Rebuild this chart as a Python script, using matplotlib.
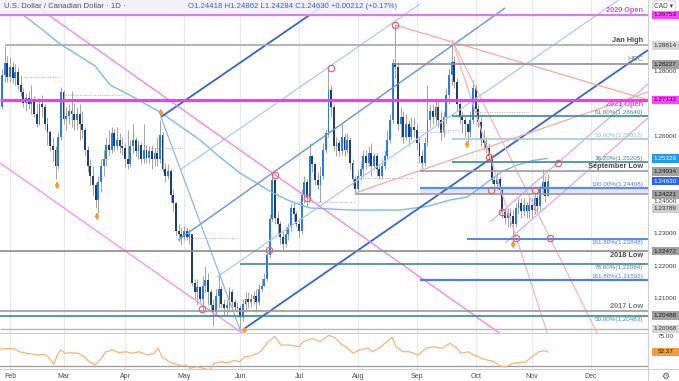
import matplotlib
matplotlib.use("Agg")
import matplotlib.pyplot as plt
import matplotlib.transforms as mtransforms
from matplotlib.patches import Rectangle
from matplotlib.lines import Line2D
import numpy as np
import pandas as pd

plt.rcParams['font.family'] = ['Liberation Sans', 'DejaVu Sans']

# ---------------- data ----------------
first_date = "2021-01-27"
first_open = 1.2690
close_pips = [12790, 12827, 12784,
    12815, 12780, 12800, 12760, 12738, 12705, 12720, 12700, 12712, 12670,
    12640, 12700, 12690, 12640, 12615, 12570, 12560, 12510, 12600, 12738,
    12655, 12665, 12680, 12670, 12650, 12670, 12640, 12620, 12560, 12510,
    12480, 12450, 12405, 12460, 12510, 12530, 12575, 12560, 12610, 12570,
    12590, 12570, 12565, 12530, 12515, 12570, 12590, 12555, 12575, 12530,
    12560, 12535, 12555, 12530, 12550, 12530, 12605, 12500, 12480, 12495,
    12420, 12395, 12310, 12300, 12290, 12310, 12290, 12300, 12150, 12120,
    12135, 12100, 12140, 12158, 12120, 12080, 12060, 12110, 12130, 12085,
    12070, 12080, 12120, 12090, 12075, 12070, 12045, 12085, 12100, 12090,
    12100, 12110, 12090, 12130, 12140, 12160, 12235, 12347, 12466, 12350,
    12330, 12290, 12270, 12300, 12320, 12380, 12360, 12330, 12310, 12420,
    12460, 12410, 12540, 12515, 12465, 12450, 12480, 12560, 12610, 12744,
    12690, 12570, 12580, 12555, 12600, 12560, 12590, 12520, 12470, 12440,
    12480, 12500, 12540, 12520, 12550, 12510, 12540, 12500, 12480, 12510,
    12540, 12590, 12650, 12827, 12815, 12640, 12660, 12600, 12640, 12600,
    12630, 12620, 12580, 12540, 12520, 12580, 12650, 12680, 12660, 12690,
    12650, 12610, 12660, 12730, 12790, 12830, 12770, 12700, 12660, 12650,
    12640, 12615, 12650, 12750, 12685, 12645, 12590, 12580, 12565, 12540,
    12466, 12455, 12470, 12435, 12367, 12350, 12365, 12355, 12330, 12380,
    12395, 12370, 12390, 12370, 12390, 12375, 12410, 12385, 12440, 12460,
    12418, 12463]
high_pips = [12810, 12881, 12850,
    12845, 12830, 12825, 12815, 12790, 12750, 12735, 12740, 12760, 12725,
    12700, 12720, 12730, 12700, 12660, 12620, 12600, 12570, 12615, 12752,
    12745, 12690, 12700, 12740, 12705, 12690, 12700, 12680, 12630, 12570,
    12530, 12510, 12460, 12480, 12530, 12560, 12600, 12620, 12630, 12625,
    12630, 12610, 12600, 12580, 12620, 12590, 12640, 12600, 12590, 12585,
    12640, 12575, 12570, 12575, 12565, 12600, 12652, 12615, 12520, 12515,
    12500, 12440, 12400, 12330, 12320, 12325, 12320, 12315, 12300, 12160,
    12160, 12140, 12170, 12200, 12180, 12130, 12100, 12130, 12170, 12140,
    12100, 12100, 12135, 12130, 12100, 12090, 12080, 12100, 12120, 12120,
    12115, 12125, 12130, 12145, 12165, 12180, 12245, 12360, 12487, 12470,
    12370, 12340, 12310, 12320, 12335, 12395, 12400, 12370, 12350, 12440,
    12480, 12470, 12580, 12545, 12520, 12490, 12510, 12580, 12625, 12812,
    12760, 12700, 12600, 12590, 12640, 12610, 12610, 12600, 12530, 12480,
    12500, 12520, 12560, 12560, 12570, 12580, 12550, 12550, 12520, 12530,
    12560, 12620, 12670, 12840, 12949, 12830, 12690, 12680, 12670, 12650,
    12660, 12660, 12640, 12600, 12560, 12600, 12760, 12700, 12700, 12720,
    12710, 12680, 12680, 12750, 12810, 12896, 12850, 12780, 12720, 12680,
    12660, 12640, 12680, 12775, 12760, 12700, 12660, 12620, 12600, 12580,
    12545, 12480, 12490, 12480, 12440, 12380, 12380, 12380, 12375, 12395,
    12410, 12410, 12410, 12400, 12410, 12410, 12430, 12420, 12450, 12500,
    12480, 12486]
low_pips = [12685, 12770, 12770,
    12770, 12765, 12760, 12745, 12725, 12690, 12680, 12685, 12670, 12660,
    12630, 12635, 12660, 12620, 12575, 12555, 12525, 12468, 12500, 12590,
    12640, 12620, 12640, 12630, 12620, 12625, 12590, 12595, 12540, 12490,
    12450, 12420, 12380, 12365, 12430, 12480, 12510, 12545, 12550, 12555,
    12560, 12550, 12545, 12505, 12500, 12505, 12550, 12540, 12530, 12515,
    12520, 12520, 12520, 12500, 12510, 12510, 12520, 12490, 12460, 12470,
    12400, 12370, 12295, 12275, 12265, 12280, 12280, 12270, 12140, 12100,
    12080, 12090, 12060, 12120, 12080, 12060, 12015, 12050, 12070, 12070,
    12050, 12050, 12060, 12070, 12065, 12060, 12010, 12030, 12060, 12070,
    12075, 12085, 12060, 12080, 12120, 12140, 12155, 12225, 12340, 12330,
    12300, 12270, 12250, 12260, 12280, 12310, 12340, 12320, 12290, 12300,
    12395, 12385, 12400, 12490, 12450, 12440, 12400, 12470, 12550, 12600,
    12660, 12555, 12540, 12540, 12545, 12540, 12550, 12500, 12450, 12422,
    12430, 12465, 12480, 12500, 12510, 12480, 12500, 12480, 12470, 12470,
    12500, 12530, 12580, 12640, 12780, 12620, 12600, 12580, 12590, 12570,
    12590, 12600, 12560, 12520, 12494, 12510, 12570, 12630, 12640, 12640,
    12630, 12590, 12600, 12640, 12700, 12760, 12750, 12680, 12640, 12610,
    12600, 12585, 12600, 12640, 12670, 12630, 12570, 12560, 12550, 12530,
    12455, 12440, 12440, 12420, 12350, 12330, 12320, 12320, 12290, 12320,
    12360, 12350, 12355, 12350, 12350, 12350, 12360, 12365, 12370, 12420,
    12400, 12428]

month_labels = ["Feb", "Mar", "Apr", "May", "Jun", "Jul", "Aug", "Sep", "Oct", "Nov", "Dec"]

# 100-day moving average (bar index, price)
ma_idx = [4.9, 12.3, 18.7, 31.8, 37.4, 46.0, 52.3, 56.1, 64.0, 71.0, 78.0, 85.9, 98.3,
          105.0, 112.1, 127.1, 145.7, 156.0, 164.4, 170.8, 175.0, 179.4, 184.0, 189.5, 195.0, 200.7]
ma_val = [1.29753, 1.29290, 1.28858, 1.28180, 1.27594, 1.27224, 1.26930, 1.26761, 1.26300,
          1.25897, 1.25400, 1.24880, 1.24263, 1.24000, 1.23800, 1.23738, 1.23738, 1.23850,
          1.24047, 1.24139, 1.24380, 1.24664, 1.24930, 1.25126, 1.25260, 1.25329]

# RSI (bar index, value)
rsi_idx = [-3.7, -0.4, 1.9, 3.4, 6.0, 8.2, 10.8, 12.3, 14.2, 16.4, 17.9, 19.1, 20.6, 22.8, 25.4,
           27.7, 29.5, 31.8, 33.6, 35.9, 38.5, 40.7, 43.3, 45.6, 48.2, 51.2, 53.8, 55.3, 56.8,
           59.4, 61.7, 64.3, 65.8, 67.3, 69.9, 72.1, 74.7, 76.2, 78.8, 81.1, 83.7, 85.9, 87.8,
           90.1, 92.7, 94.2, 96.4, 99.0, 101.3, 104.6, 108.0, 109.5, 112.9, 115.8, 119.2, 121.5,
           124.1, 125.6, 128.2, 130.4, 133.8, 135.3, 137.9, 140.1, 142.8, 144.2, 146.9, 149.1,
           152.5, 155.5, 158.1, 161.4, 164.4, 167.0, 168.5, 171.2, 173.4, 176.0, 178.3, 180.9,
           183.1, 185.4, 188.0, 190.2, 192.8, 195.1, 197.7, 199.5, 201.0]
rsi_val = [56.6, 58.3, 56.6, 52.8, 50.3, 49.2, 47.6, 49.2, 44.9, 32.7, 50.3, 55.6, 50.3, 51.3, 50.3,
           44.9, 36.9, 31.6, 39.6, 52.8, 55.6, 51.3, 52.8, 50.3, 52.8, 47.6, 50.3, 58.3, 44.9,
           36.9, 33.2, 30.0, 31.6, 26.3, 28.9, 26.3, 23.6, 34.3, 36.9, 35.3, 38.5, 36.9, 44.9,
           46.0, 50.3, 55.6, 68.8, 77.0, 63.5, 63.5, 60.8, 68.8, 74.0, 68.8, 79.0, 75.0,
           63.5, 60.8, 50.3, 55.6, 58.3, 52.8, 58.3, 66.3, 76.0, 60.8, 52.8, 52.8,
           47.6, 58.3, 60.8, 58.3, 66.3, 58.3, 50.3, 52.8, 47.6, 42.3, 39.6, 36.9,
           30.0, 28.9, 34.3, 35.3, 36.9, 44.9, 52.8, 54.4, 52.37]

# horizontal levels: price, start bar, label
level_price = [1.29753, 1.28814, 1.28227, 1.27132, 1.26640, 1.25922, 1.25205, 1.24934,
               1.24408, 1.24221, 1.22848, 1.22472, 1.22084, 1.21592, 1.20620, 1.20483, 1.20068]
level_start = [-3.74, -2.0, 143.5, -3.74, 165.2, 165.2, 165.2, 153.2,
               153.2, 128.9, 170.8, -3.74, 86.0, 153.2, -3.74, -3.74, -3.74]
level_label = ["2020 Open", "Jan High", "HDC", "2021 Open", "61.80%(1.26640)", "50.00%(1.25922)",
               "38.20%(1.25205)", "September Low", "100.00%(1.24408)", "", "161.80%(1.22848)",
               "2018 Low", "78.60%(1.22084)", "161.80%(1.21592)", "2017 Low", "50.00%(1.20483)", ""]

# trend lines (bar index, price) pairs
trend_x0 = [56.4, 63.5, 62.8, 87.4, 77.4, 56.4, 11.2, -3.74, 179.4, 185.0, 143.9, 128.9, 165.2, 165.2]
trend_y0 = [1.26607, 1.24972, 1.22813, 1.20068, 1.21672, 1.26607, 1.29938, 1.25188, 1.23368, 1.22720,
            1.29445, 1.24263, 1.28982, 1.28982]
trend_x1 = [119.6, 153.2, 185.0, 238.4, 228.0, 86.3, 185.0, 87.8, 238.4, 238.4, 238.4, 238.4, 201.0, 219.7]
trend_y1 = [1.30185, 1.30092, 1.29969, 1.28673, 1.30247, 1.19975, 1.19820, 1.19882, 1.27625, 1.26576,
            1.27131, 1.27378, 1.19882, 1.19882]

# dotted short ranges
dot_x0 = [4.9, 20.6, 52.3, 67.3, 86.0, 108.0, 129.0, 152.5, 160.7, 174.5, 197.0]
dot_x1 = [18.7, 42.2, 64.3, 84.8, 98.0, 129.0, 151.0, 164.4, 168.0, 194.0, 200.7]
dot_p = [1.27840, 1.27285, 1.25650, 1.22875, 1.20660, 1.23990, 1.24730, 1.26150, 1.26210, 1.26760, 1.23789]

# hollow red circles
circ_x = [99.0, 96.8, 71.7, 111.0, 120.0, 143.9, 179.0, 179.7, 183.9, 189.1, 196.2, 201.8, 204.8]
circ_p = [1.24818, 1.22504, 1.20684, 1.24108, 1.28118, 1.29445, 1.25373, 1.24355, 1.23676,
          1.22875, 1.24355, 1.22875, 1.25188]

# orange arrows: bar, tip price, tail price
arr_x = [17.6, 32.5, 56.4, 87.6, 170.8, 188.0]
arr_tip = [1.24633, 1.23677, 1.26607, 1.20160, 1.25897, 1.22813]
arr_tail = [1.24417, 1.23461, 1.26823, 1.19944, 1.25681, 1.22597]

# right-scale price tags
tag_price = [1.29753, 1.28814, 1.28227, 1.27132, 1.25329, 1.24934, 1.24221, 1.23789,
             1.22472, 1.20488, 1.20068, 1.24630]
tick_prices = [1.21, 1.22, 1.23, 1.24, 1.25, 1.26, 1.27, 1.28, 1.29]

# ---------------- layout ----------------
W, H = 679, 381
fig = plt.figure(figsize=(W / 100, H / 100), dpi=100)
fig.patch.set_facecolor('white')


def fx(px):
    return px / W


def fy(px):
    return 1 - px / H


PANEL_R = 648
MAIN_B = 333
RSI_B = 369
SCALE = 3242.0
REF_P, REF_Y = 1.29753, 15
ylo = REF_P - (MAIN_B - REF_Y) / SCALE
yhi = REF_P + REF_Y / SCALE
XLIM = (-3.74, 238.4)

ax = fig.add_axes([0, fy(MAIN_B), fx(PANEL_R), MAIN_B / H])
ax.set_xlim(*XLIM)
ax.set_ylim(ylo, yhi)
ax.axis('off')

# month positions
all_days = pd.bdate_range(first_date, "2021-12-31")
n = len(close_pips)
month_pos = []
for m in range(2, 13):
    first = all_days[all_days.month == m][0]
    month_pos.append(all_days.get_loc(first) - 3)

for p in month_pos:
    ax.axvline(p, color='#e9e9ec', lw=0.8, zorder=0)

# candles
c = np.array(close_pips) / 10000.0
h = np.array(high_pips) / 10000.0
l = np.array(low_pips) / 10000.0
o = np.r_[first_open, c[:-1]]
h = np.maximum(h, np.maximum(o, c))
l = np.minimum(l, np.minimum(o, c))
x = np.arange(n) - 3
up = c >= o
ax.vlines(x, l, h, color='#a3a3a3', lw=0.7, zorder=3)
body = np.maximum(np.abs(c - o), 0.00006)
ax.bar(x[up], body[up], bottom=np.minimum(o, c)[up], width=0.7, color='#2a7bf2', lw=0, zorder=4)
ax.bar(x[~up], body[~up], bottom=np.minimum(o, c)[~up], width=0.7, color='#1d3c7c', lw=0, zorder=4)

# moving average
ax.plot(ma_idx, ma_val, color='#7cb9f2', lw=1.0, zorder=5)

# trend lines
trend_style = [('#3564cc', 1.3), ('#a9cbf3', 0.9), ('#6394e6', 1.0), ('#3564cc', 1.3),
               ('#a9cbf3', 0.9), ('#8ab8ee', 0.9), ('#f27cf2', 0.9), ('#f58df5', 0.9),
               ('#d9a8ef', 0.9), ('#d9a8ef', 0.9), ('#f5aaa2', 0.9), ('#f5aaa2', 0.9),
               ('#f6b2c2', 0.9), ('#f6b2c2', 0.9)]
for i in range(len(trend_x0)):
    col, lw = trend_style[i]
    ax.plot([trend_x0[i], trend_x1[i]], [trend_y0[i], trend_y1[i]], color=col, lw=lw, zorder=6,
            solid_capstyle='butt')

# dotted ranges
for i in range(len(dot_p)):
    ax.plot([dot_x0[i], dot_x1[i]], [dot_p[i], dot_p[i]], color='#b8b8b8', lw=0.8,
            ls=(0, (1, 1.2)), zorder=5)

# band between 100% and July low
ax.fill_between([153.2, XLIM[1]], 1.24221, 1.24408, color='#e4e4f6', zorder=2, lw=0)

# horizontal levels
lvl_style = [('#d77ee8', 1.6, '#d74ed7', True, 'above'),
             ('#a8a8a8', 1.2, '#4a4a4a', True, 'above'),
             ('#8e8e8e', 1.2, '#8a8a8a', False, 'above'),
             ('#ff33ff', 2.2, '#ff33ff', True, 'below'),
             ('#3f8794', 1.2, '#3f8794', False, 'above'),
             ('#a3cbd2', 1.2, '#94bfc7', False, 'above'),
             ('#3f8794', 1.2, '#3f8794', False, 'above'),
             ('#9c9c9c', 1.2, '#4a4a4a', True, 'above'),
             ('#5b8fe6', 1.6, '#4a7fdc', False, 'above'),
             ('#9c9c9c', 1.2, '#444444', False, 'above'),
             ('#4a7fdc', 1.3, '#4a7fdc', False, 'below'),
             ('#8c8c8c', 1.2, '#4a4a4a', True, 'below'),
             ('#3f8794', 1.2, '#3f8794', False, 'below'),
             ('#4a7fdc', 1.6, '#4a7fdc', False, 'above'),
             ('#9c9c9c', 1.2, '#7a7a7a', True, 'above'),
             ('#3f8794', 1.2, '#3f8794', False, 'below'),
             ('#b8b8b8', 1.0, '#444444', False, 'above')]
above_tr = mtransforms.offset_copy(ax.transData, fig=fig, y=1.0, units='dots')
below_tr = mtransforms.offset_copy(ax.transData, fig=fig, y=-1.2, units='dots')
for i, p in enumerate(level_price):
    col, lw, tcol, bold, pos = lvl_style[i]
    ax.plot([level_start[i], XLIM[1]], [p, p], color=col, lw=lw, zorder=7, solid_capstyle='butt')
    if level_label[i]:
        ax.text(236.6, p, level_label[i], ha='right',
                va='bottom' if pos == 'above' else 'top',
                transform=above_tr if pos == 'above' else below_tr,
                fontsize=5.3 if bold or level_label[i] == 'HDC' else 4.5,
                color=tcol, fontweight='bold' if bold else 'normal', zorder=9)

# circles and arrows
ax.plot(circ_x, circ_p, 'o', mfc='none', mec='#e26868', ms=4.6, mew=0.9, zorder=8)
for i in range(len(arr_x)):
    ax.annotate('', xy=(arr_x[i], arr_tip[i]), xytext=(arr_x[i], arr_tail[i]),
                arrowprops=dict(arrowstyle='-|>', color='#f39a2a', lw=1.3, mutation_scale=5,
                                shrinkA=0, shrinkB=0), zorder=9)

# ---------------- right price scale ----------------
rax = fig.add_axes([fx(PANEL_R), fy(MAIN_B), fx(W - PANEL_R), MAIN_B / H])
rax.set_xlim(0, 1)
rax.set_ylim(ylo, yhi)
rax.axis('off')
half = 4.3 / SCALE
for p in tick_prices:
    # ticks that sit under a price tag are hidden by it
    if min(abs(p - t) for t in tag_price) * SCALE < 6.5:
        continue
    rax.text(0.56, p, f"{p:.5f}", ha='center', va='center', fontsize=4.6, color='#3a3a3a')
tag_style = [('#ff44ff', '#3a003a'), ('#d6d6d6', '#333333'), ('#a1a1a1', '#1f1f1f'),
             ('#ff44ff', '#3a003a'), ('#1e9bf0', 'white'), ('#a1a1a1', '#1f1f1f'),
             ('#a1a1a1', '#1f1f1f'), ('#cfcfcf', '#333333'), ('#a1a1a1', '#1f1f1f'),
             ('#a1a1a1', '#1f1f1f'), ('#d6d6d6', '#333333'), ('#2962ff', 'white')]
for i, p in enumerate(tag_price):
    fc, tc = tag_style[i]
    rax.add_patch(Rectangle((0.12, p - half), 0.88, 2 * half, fc=fc, ec='none', zorder=3))
    rax.text(0.56, p, f"{p:.5f}", ha='center', va='center', fontsize=4.6, color=tc, zorder=4)

# ---------------- RSI panel ----------------
RLO, RHI = 25.2, 82.7
rsi_ax = fig.add_axes([0, fy(RSI_B), fx(PANEL_R), (RSI_B - MAIN_B) / H])
rsi_ax.set_xlim(*XLIM)
rsi_ax.set_ylim(RLO, RHI)
rsi_ax.axis('off')
for p in month_pos:
    rsi_ax.axvline(p, color='#e9e9ec', lw=0.8, zorder=0)
rsi_ax.axhline(30, color='#9a9a9a', lw=0.9, zorder=1)
rsi_ax.plot(rsi_idx, rsi_val, color='#f7b27a', lw=0.9, zorder=3)

rrax = fig.add_axes([fx(PANEL_R), fy(RSI_B), fx(W - PANEL_R), (RSI_B - MAIN_B) / H])
rrax.set_xlim(0, 1)
rrax.set_ylim(RLO, RHI)
rrax.axis('off')
rrax.text(0.56, 76.5, "75.00", ha='center', va='center', fontsize=4.6, color='#3a3a3a')
rh = 4.3 / 0.626
rrax.add_patch(Rectangle((0.12, 52.37 - rh), 0.88, 2 * rh, fc='#f39b3f', ec='none', zorder=3))
rrax.text(0.56, 52.37, "52.37", ha='center', va='center', fontsize=4.6, color='#2a1a00', zorder=4)

# date labels
dtr = mtransforms.blended_transform_factory(rsi_ax.transData, rsi_ax.transAxes)
for p, lab in zip(month_pos, month_labels):
    rsi_ax.text(p, -0.22, lab, transform=dtr, ha='center', va='center', fontsize=5.0,
                color='#4a4a4a', clip_on=False)

# separators
for (x0, y0, x1, y1) in [(0, MAIN_B, PANEL_R, MAIN_B), (0, RSI_B, W, RSI_B),
                         (PANEL_R, 0, PANEL_R, H)]:
    fig.add_artist(Line2D([fx(x0), fx(x1)], [fy(y0), fy(y1)], color='#cfcfcf', lw=0.8,
                          transform=fig.transFigure, zorder=20))

# title strip
fig.add_artist(Rectangle((0, fy(14)), fx(392), 14 / H, transform=fig.transFigure,
                         fc='#f1eff8', ec='none', alpha=0.9, zorder=21))
fig.text(fx(4), fy(7), "U.S. Dollar / Canadian Dollar \u00b7 1D \u00b7", fontsize=5.6,
         color='#555555', va='center', ha='left', zorder=22)
fig.text(fx(188), fy(7), "O1.24418 H1.24862 L1.24284 C1.24630 +0.00212 (+0.17%)", fontsize=5.6,
         color='#2f62e0', va='center', ha='left', zorder=22)
fig.text(fx(664), fy(6), "CAD \u25be", fontsize=4.8, color='#444444', va='center', ha='center',
         zorder=22, bbox=dict(boxstyle='round,pad=0.25', fc='white', ec='#cccccc', lw=0.6))
fig.text(fx(665), fy(376), "\u2699", fontsize=6.5, color='#555555', va='center', ha='center',
         family=['DejaVu Sans'], zorder=22)

fig.savefig("out.png", dpi=100)
